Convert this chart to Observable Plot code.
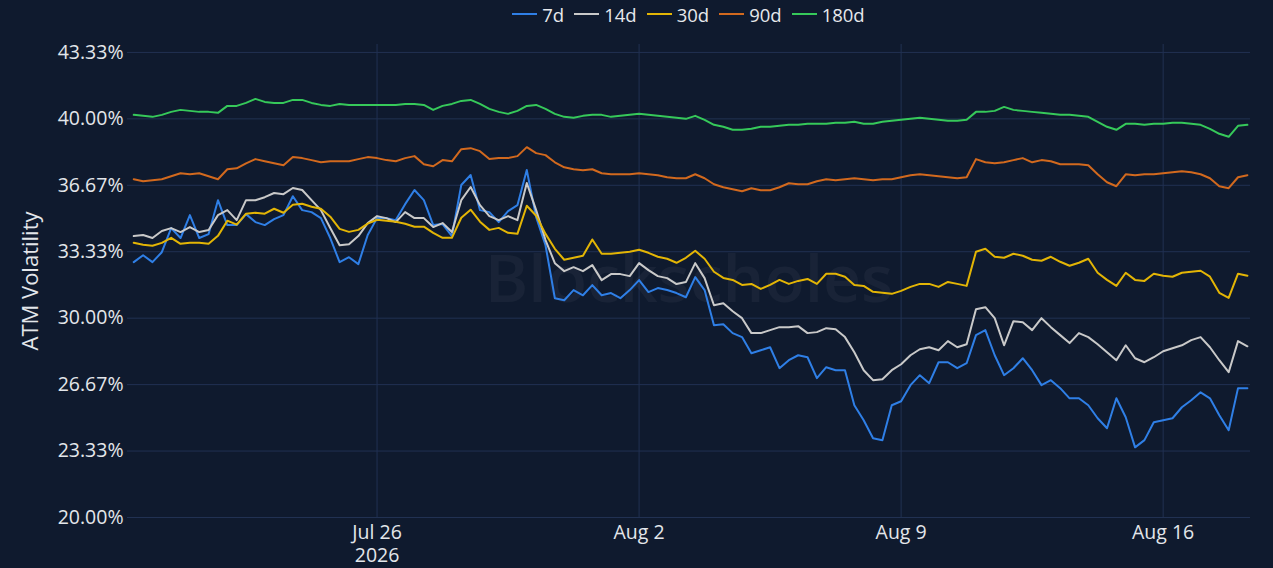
<!DOCTYPE html>
<html>
<head>
<meta charset="utf-8">
<script src="https://cdn.jsdelivr.net/npm/d3@7"></script>
<script src="https://cdn.jsdelivr.net/npm/@observablehq/plot@0.6"></script>
<style>
  html, body { margin: 0; padding: 0; background: #0f1a2e; }
  body { width: 1273px; height: 568px; overflow: hidden; font-family: 'Open Sans', sans-serif; }
  #legend { height: 28px; margin-left: 127px; width: 1123px; display: flex; justify-content: center; align-items: center; color: #e6e8ec; font-size: 18.5px; }
  .item { display: flex; align-items: center; margin: 0 5px; }
  .sw { width: 25px; height: 2.5px; margin-right: 5px; }
</style>
</head>
<body>
<div id="legend"></div>
<div id="chart"></div>
<script>
const seriesNames = ["7d", "14d", "30d", "90d", "180d"];
const seriesColors = ["#2f7fe6", "#c9c9c9", "#e3b505", "#d2691e", "#36c95a"];

const yTicks = [20, 23.3333, 26.6667, 30, 33.3333, 36.6667, 40, 43.3333];
const xTickDates = ["2026-07-26", "2026-08-02", "2026-08-09", "2026-08-16"];
const xTickLabels = ["Jul 26", "Aug 2", "Aug 9", "Aug 16"];
const xTickYears = ["2026", "", "", ""];

// 6-hourly samples from 2026-07-19 08:00 UTC to 2026-08-18 08:00 UTC
const sampleStart = "2026-07-19T08:00:00Z";
const sampleEnd = "2026-08-18T08:00:00Z";

const s7d = [32.81, 33.16, 32.81, 33.31, 34.52, 34.02, 35.17, 34.02, 34.22, 35.92,
 34.67, 34.67, 35.22, 34.82, 34.67, 34.97, 35.17, 36.12, 35.42, 35.32,
 35.02, 34.02, 32.81, 33.06, 32.71, 34.17, 35.02, 35.02, 34.92, 35.72,
 36.43, 35.92, 34.67, 34.72, 34.12, 36.68, 37.18, 35.42, 35.32, 34.82,
 35.37, 35.67, 37.43, 35.07, 33.66, 31.00, 30.90, 31.41, 31.15, 31.66,
 31.15, 31.26, 31.00, 31.41, 31.91, 31.31, 31.51, 31.41, 31.26, 31.05,
 32.06, 31.41, 29.65, 29.70, 29.25, 29.05, 28.24, 28.39, 28.54, 27.49,
 27.89, 28.14, 28.04, 26.99, 27.54, 27.39, 27.39, 25.63, 24.88, 23.98,
 23.88, 25.63, 25.83, 26.64, 27.14, 26.74, 27.79, 27.79, 27.49, 27.74,
 29.15, 29.40, 28.14, 27.14, 27.49, 27.99, 27.39, 26.64, 26.89, 26.49,
 25.98, 25.98, 25.63, 24.98, 24.48, 25.98, 25.03, 23.52, 23.88, 24.78,
 24.88, 24.98, 25.53, 25.88, 26.28, 25.98, 25.13, 24.38, 26.49, 26.49,
 26.39];

const s14d = [34.12, 34.17, 34.02, 34.37, 34.52, 34.32, 34.57, 34.32, 34.42, 35.17,
 35.42, 34.92, 35.92, 35.92, 36.07, 36.28, 36.22, 36.53, 36.43, 35.92,
 35.42, 34.52, 33.66, 33.71, 34.12, 34.77, 35.12, 35.02, 34.82, 35.32,
 35.02, 35.02, 34.57, 34.77, 34.32, 35.92, 36.58, 35.67, 35.12, 34.92,
 35.12, 34.92, 36.78, 35.42, 33.92, 32.76, 32.36, 32.56, 32.36, 32.66,
 31.91, 32.21, 32.21, 32.11, 32.76, 32.41, 32.11, 32.01, 31.71, 31.81,
 32.76, 32.01, 30.65, 30.75, 30.35, 30.00, 29.25, 29.25, 29.40, 29.55,
 29.55, 29.60, 29.25, 29.30, 29.50, 29.45, 29.05, 28.29, 27.39, 26.89,
 26.94, 27.39, 27.69, 28.14, 28.44, 28.54, 28.39, 28.85, 28.54, 28.69,
 30.45, 30.55, 30.00, 28.64, 29.85, 29.80, 29.40, 30.00, 29.55, 29.15,
 28.75, 29.25, 29.05, 28.69, 28.29, 27.89, 28.64, 27.99, 27.79, 28.04,
 28.34, 28.49, 28.64, 28.90, 29.05, 28.54, 27.89, 27.29, 28.85, 28.59,
 28.29];

const s30d = [33.78, 33.68, 33.63, 33.78, 34.03, 33.73, 33.78, 33.78, 33.73, 34.13,
 34.89, 34.69, 35.24, 35.29, 35.24, 35.49, 35.29, 35.69, 35.74, 35.59,
 35.49, 35.09, 34.48, 34.33, 34.43, 34.74, 34.94, 34.89, 34.84, 34.74,
 34.59, 34.59, 34.28, 34.03, 34.03, 35.04, 35.44, 34.84, 34.43, 34.53,
 34.28, 34.23, 35.64, 35.14, 34.23, 33.48, 32.93, 33.03, 33.13, 33.95,
 33.23, 33.23, 33.28, 33.33, 33.43, 33.28, 33.08, 32.98, 32.78, 33.03,
 33.38, 32.98, 32.33, 32.02, 31.92, 31.67, 31.72, 31.47, 31.67, 31.92,
 31.72, 31.87, 31.97, 31.72, 32.23, 32.23, 32.08, 31.67, 31.62, 31.32,
 31.27, 31.22, 31.37, 31.57, 31.72, 31.72, 31.57, 31.82, 31.72, 31.62,
 33.33, 33.48, 33.08, 33.03, 33.23, 33.13, 32.93, 32.88, 33.08, 32.83,
 32.63, 32.78, 32.98, 32.28, 31.92, 31.62, 32.28, 31.92, 31.87, 32.23,
 32.13, 32.08, 32.28, 32.33, 32.38, 32.08, 31.27, 31.02, 32.23, 32.13,
 31.82];

const s90d = [36.97, 36.87, 36.92, 36.97, 37.12, 37.27, 37.22, 37.27, 37.12, 36.97,
 37.47, 37.52, 37.77, 37.98, 37.87, 37.77, 37.67, 38.08, 38.03, 37.93,
 37.82, 37.87, 37.87, 37.87, 37.98, 38.08, 38.03, 37.93, 37.87, 38.03,
 38.13, 37.72, 37.62, 37.93, 37.87, 38.48, 38.53, 38.38, 37.98, 38.03,
 38.03, 38.13, 38.58, 38.28, 38.18, 37.82, 37.57, 37.47, 37.42, 37.47,
 37.27, 37.22, 37.22, 37.22, 37.27, 37.22, 37.17, 37.07, 37.02, 37.02,
 37.22, 37.02, 36.72, 36.57, 36.47, 36.37, 36.52, 36.42, 36.42, 36.57,
 36.77, 36.72, 36.72, 36.87, 36.97, 36.92, 36.97, 37.02, 36.97, 36.92,
 36.97, 36.97, 37.07, 37.17, 37.22, 37.17, 37.12, 37.07, 37.02, 37.07,
 37.98, 37.82, 37.77, 37.82, 37.93, 38.03, 37.82, 37.93, 37.87, 37.72,
 37.72, 37.72, 37.67, 37.22, 36.82, 36.62, 37.22, 37.17, 37.22, 37.22,
 37.27, 37.32, 37.37, 37.32, 37.22, 37.02, 36.62, 36.52, 37.07, 37.17,
 37.07];

const s180d = [40.20, 40.15, 40.10, 40.20, 40.35, 40.45, 40.40, 40.35, 40.35, 40.30,
 40.65, 40.65, 40.80, 41.00, 40.85, 40.80, 40.80, 40.95, 40.95, 40.80,
 40.70, 40.65, 40.75, 40.70, 40.70, 40.70, 40.70, 40.70, 40.70, 40.75,
 40.75, 40.70, 40.45, 40.65, 40.75, 40.90, 40.95, 40.75, 40.50, 40.35,
 40.25, 40.40, 40.65, 40.70, 40.50, 40.25, 40.10, 40.05, 40.15, 40.20,
 40.20, 40.10, 40.15, 40.20, 40.25, 40.20, 40.15, 40.10, 40.05, 40.00,
 40.15, 39.95, 39.70, 39.60, 39.45, 39.45, 39.50, 39.60, 39.60, 39.65,
 39.70, 39.70, 39.75, 39.75, 39.75, 39.80, 39.80, 39.85, 39.75, 39.75,
 39.85, 39.90, 39.95, 40.00, 40.05, 40.00, 39.95, 39.90, 39.90, 39.95,
 40.35, 40.35, 40.40, 40.60, 40.45, 40.40, 40.35, 40.30, 40.25, 40.20,
 40.20, 40.15, 40.10, 39.85, 39.60, 39.45, 39.75, 39.75, 39.70, 39.75,
 39.75, 39.80, 39.80, 39.75, 39.70, 39.50, 39.25, 39.10, 39.65, 39.70,
 39.60];

const seriesValues = [s7d, s14d, s30d, s90d, s180d];
const t0 = new Date(sampleStart), t1 = new Date(sampleEnd);
const times = d3.utcHour.every(6).range(t0, new Date(+t1 + 1));

const rows = [];
seriesNames.forEach((name, k) => {
  seriesValues[k].forEach((v, i) => rows.push({t: times[i], v, s: name}));
});

const xTicks = xTickDates.map(d => new Date(d + "T00:00:00Z"));
const labelOf = new Map(xTicks.map((d, i) => [+d, xTickLabels[i]]));
const yearOf = new Map(xTicks.map((d, i) => [+d, xTickYears[i]]));

const gridColor = "#213152";
const textColor = "#e3e6ea";

const chart = Plot.plot({
  width: 1273,
  height: 540,
  marginLeft: 127,
  marginRight: 23,
  marginTop: 16,
  marginBottom: 51,
  style: {background: "transparent", color: textColor, fontFamily: "'Open Sans', sans-serif"},
  x: {type: "utc", domain: [t0, t1]},
  y: {domain: [20, 43.73]},
  color: {domain: seriesNames, range: seriesColors},
  marks: [
    Plot.gridY(yTicks, {stroke: gridColor, strokeOpacity: 1, strokeWidth: 1}),
    Plot.gridX(xTicks, {stroke: gridColor, strokeOpacity: 1, strokeWidth: 1}),
    Plot.text(["Blockscholes"], {frameAnchor: "middle", fontSize: 66, fontWeight: 600, fill: "#ffffff", fillOpacity: 0.045}),
    Plot.line(rows, {x: "t", y: "v", z: "s", stroke: "s", strokeWidth: 2}),
    Plot.axisY(yTicks, {tickSize: 0, tickPadding: 4, tickFormat: d => d.toFixed(2) + "%", fontSize: 19.5, fill: textColor, label: null}),
    Plot.axisX(xTicks, {tickSize: 0, tickPadding: 8, tickFormat: d => labelOf.get(+d), fontSize: 19.5, fill: textColor, label: null}),
    Plot.axisX(xTicks.filter(d => yearOf.get(+d)), {tickSize: 0, tickPadding: 31, tickFormat: d => yearOf.get(+d), fontSize: 19.5, fill: textColor, label: null}),
    Plot.text(["ATM Volatility"], {frameAnchor: "left", dx: -97, rotate: -90, textAnchor: "middle", fontSize: 22, fill: textColor})
  ]
});
document.getElementById("chart").appendChild(chart);

const legend = document.getElementById("legend");
seriesNames.forEach((name, k) => {
  const item = document.createElement("div");
  item.className = "item";
  const sw = document.createElement("div");
  sw.className = "sw";
  sw.style.background = seriesColors[k];
  const lab = document.createElement("span");
  lab.textContent = name;
  item.appendChild(sw);
  item.appendChild(lab);
  legend.appendChild(item);
});
</script>
</body>
</html>
